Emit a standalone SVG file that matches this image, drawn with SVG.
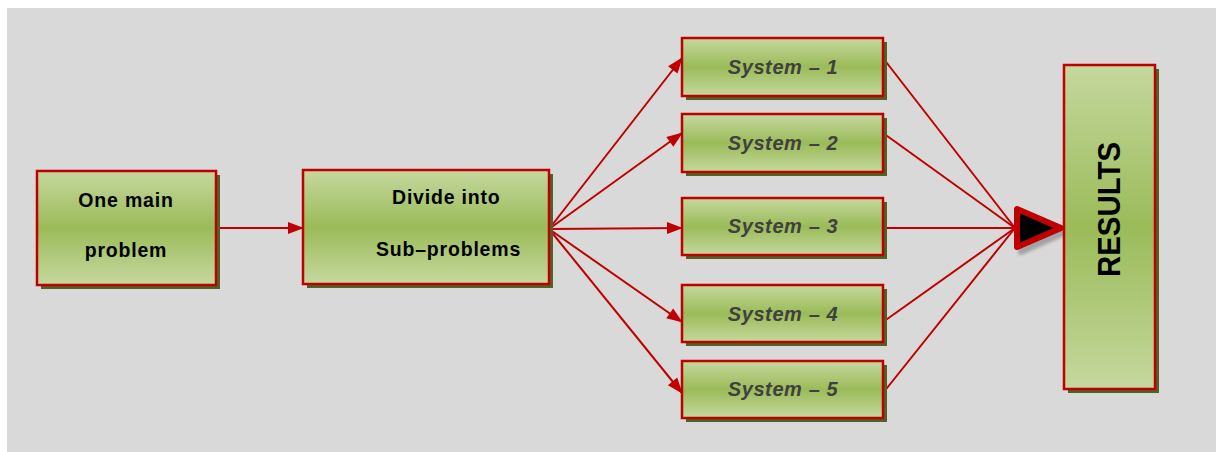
<svg xmlns="http://www.w3.org/2000/svg" width="1216" height="452" viewBox="0 0 1216 452">
<defs>
<linearGradient id="g" x1="0" y1="0" x2="0" y2="1">
<stop offset="0" stop-color="#c5d89e"/>
<stop offset="0.5" stop-color="#9bbb59"/>
<stop offset="1" stop-color="#c5d89e"/>
</linearGradient>
<marker id="ah" viewBox="0 0 16 12" refX="15" refY="6" markerWidth="16" markerHeight="12" markerUnits="userSpaceOnUse" orient="auto" overflow="visible">
<path d="M0,0 L16,6 L0,12 z" fill="#c00000"/>
</marker>
<filter id="blur" x="-20%" y="-20%" width="140%" height="140%"><feGaussianBlur stdDeviation="1.5"/></filter>
</defs>
<style>
.box{fill:url(#g);stroke:#c00000;stroke-width:2.5}
.sh{fill:#4f6228}
.t{font-family:"Liberation Sans",Arial,sans-serif;font-weight:bold;font-size:19.5px;fill:#000;letter-spacing:0.8px}
.s{font-family:"Liberation Sans",Arial,sans-serif;font-style:italic;font-weight:bold;font-size:20px;fill:#404040;letter-spacing:0.6px}
.c{stroke:#c00000;stroke-width:2;fill:none}
</style>
<rect x="7" y="8" width="1209" height="444" fill="#d9d9d9"/>

<g id="connectors">
<line class="c" x1="216" y1="228" x2="303" y2="228" marker-end="url(#ah)"/>
<line class="c" x1="549" y1="229" x2="682" y2="58" marker-end="url(#ah)"/>
<line class="c" x1="549" y1="229" x2="682" y2="133" marker-end="url(#ah)"/>
<line class="c" x1="549" y1="229" x2="682" y2="228" marker-end="url(#ah)"/>
<line class="c" x1="549" y1="229" x2="682" y2="322" marker-end="url(#ah)"/>
<line class="c" x1="549" y1="229" x2="682" y2="393" marker-end="url(#ah)"/>
<line class="c" x1="883" y1="58" x2="1015" y2="228"/>
<line class="c" x1="883" y1="133" x2="1015" y2="228"/>
<line class="c" x1="883" y1="228" x2="1015" y2="228"/>
<line class="c" x1="883" y1="322" x2="1015" y2="228"/>
<line class="c" x1="883" y1="393" x2="1015" y2="228"/>
<path d="M1021,214 L1021,252 L1064,233 z" fill="#808080" stroke="#808080" stroke-width="6" stroke-linejoin="round" opacity="0.6" filter="url(#blur)"/>
<path d="M1017,209 L1017,247 L1061,228 z" fill="#000" stroke="#c00000" stroke-width="6" stroke-linejoin="round"/>
</g>

<g id="n1">
<rect class="sh" x="41" y="175" width="179" height="114"/>
<rect class="box" x="37" y="171" width="179" height="114"/>
<text class="t" x="126" y="207" text-anchor="middle">One main</text>
<text class="t" x="126" y="257" text-anchor="middle">problem</text>
</g>

<g id="n2">
<rect class="sh" x="307" y="174" width="246" height="114"/>
<rect class="box" x="303" y="170" width="246" height="114"/>
<text class="t" x="392" y="204">Divide into</text>
<text class="t" x="376" y="256">Sub–problems</text>
</g>

<g id="s1">
<rect class="sh" x="686" y="42" width="201" height="58"/>
<rect class="box" x="682" y="38" width="201" height="58"/>
<text class="s" x="783" y="74" text-anchor="middle">System – 1</text>
</g>
<g id="s2">
<rect class="sh" x="686" y="118" width="201" height="58"/>
<rect class="box" x="682" y="114" width="201" height="58"/>
<text class="s" x="783" y="150" text-anchor="middle">System – 2</text>
</g>
<g id="s3">
<rect class="sh" x="686" y="202" width="201" height="57"/>
<rect class="box" x="682" y="198" width="201" height="57"/>
<text class="s" x="783" y="233" text-anchor="middle">System – 3</text>
</g>
<g id="s4">
<rect class="sh" x="686" y="289" width="201" height="57"/>
<rect class="box" x="682" y="285" width="201" height="57"/>
<text class="s" x="783" y="321" text-anchor="middle">System – 4</text>
</g>
<g id="s5">
<rect class="sh" x="686" y="365" width="201" height="57"/>
<rect class="box" x="682" y="361" width="201" height="57"/>
<text class="s" x="783" y="396" text-anchor="middle">System – 5</text>
</g>

<g id="results">
<rect class="sh" x="1068" y="69" width="91" height="324"/>
<rect class="box" x="1064" y="65" width="91" height="324"/>
<text transform="translate(1120,209.5) rotate(-90)" x="0" y="0" text-anchor="middle" font-family="Liberation Sans, Arial, sans-serif" font-weight="bold" font-size="31" textLength="135" lengthAdjust="spacingAndGlyphs" fill="#000">RESULTS</text>
</g>
</svg>
